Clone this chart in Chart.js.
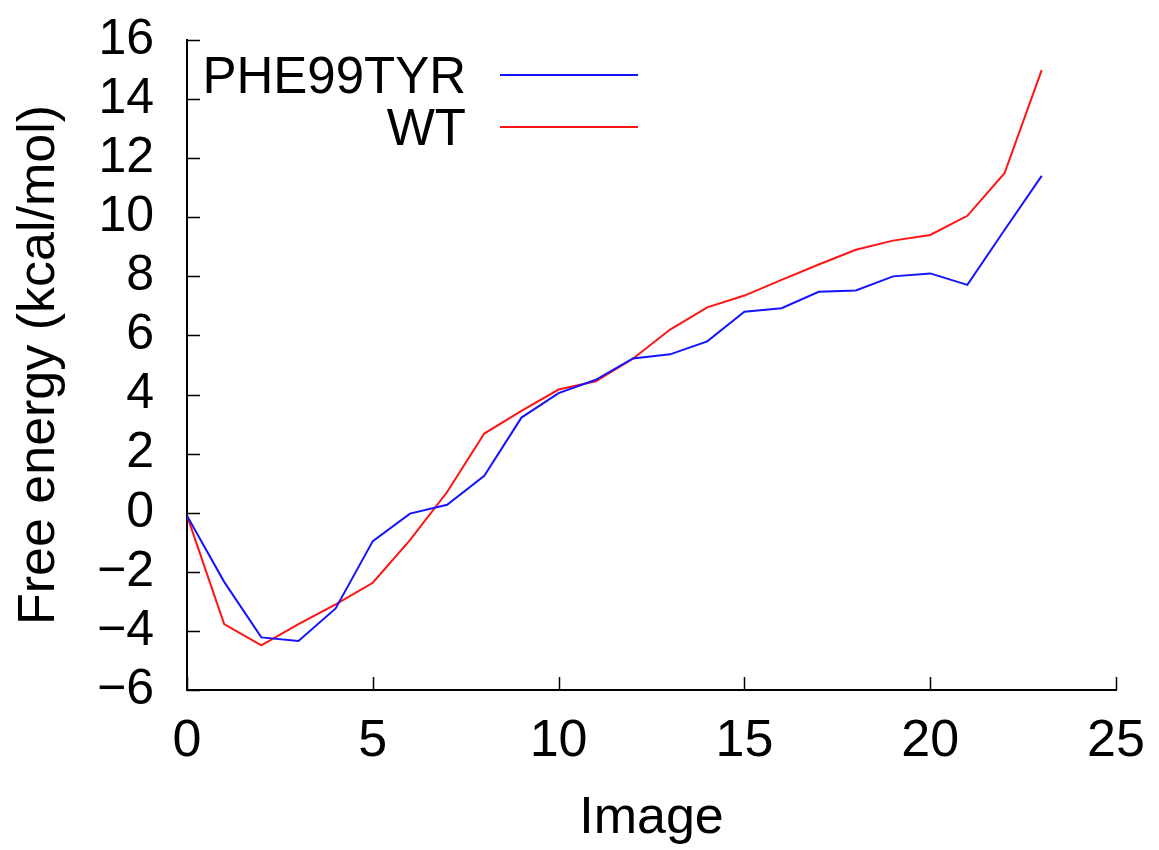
<!DOCTYPE html>
<html lang="en">
<head>
    <meta charset="UTF-8">
    <title>Free energy profile</title>
    <script src="https://cdn.jsdelivr.net/npm/chart.js"></script>
    <style>
        html, body {
            margin: 0;
            padding: 0;
            background: #fff;
        }
        #wrap {
            width: 1159px;
            height: 850px;
        }
    </style>
</head>
<body>
    <div id="wrap"><canvas id="energyChart"></canvas></div>

    <script>
        // image index along the path
        const images = [0, 1, 2, 3, 4, 5, 6, 7, 8, 9, 10, 11, 12, 13, 14, 15, 16, 17, 18, 19, 20, 21, 22, 23];
        // free energy, kcal/mol
        const phe99tyr = [-0.1, -2.34, -4.22, -4.34, -3.24, -0.96, -0.03, 0.27, 1.25, 3.22, 4.05, 4.50,
                          5.22, 5.36, 5.80, 6.80, 6.92, 7.48, 7.52, 8.00, 8.10, 7.71, 9.57, 11.40];
        const wt = [-0.1, -3.77, -4.49, -3.77, -3.10, -2.37, -0.93, 0.70, 2.68, 3.45, 4.17, 4.45,
                    5.21, 6.20, 6.95, 7.35, 7.88, 8.40, 8.90, 9.21, 9.40, 10.05, 11.49, 14.98];
        const seriesNames = ['PHE99TYR', 'WT'];
        const xTicks = [0, 5, 10, 15, 20, 25];
        const yTicks = [-6, -4, -2, 0, 2, 4, 6, 8, 10, 12, 14, 16];

        const FONT = "'Liberation Sans', Arial, sans-serif";
        Chart.defaults.font.family = FONT;
        Chart.defaults.color = '#000';

        const toPoints = ys => images.map((x, i) => ({ x: x, y: ys[i] }));
        const fmt = v => (v < 0 ? '\u2212' + Math.abs(v) : String(v));

        // gnuplot-style inward ticks
        const inwardTicks = {
            id: 'inwardTicks',
            afterDatasetsDraw(chart) {
                const { ctx, chartArea, scales } = chart;
                ctx.save();
                ctx.strokeStyle = '#000';
                ctx.lineWidth = 1.5;
                ctx.beginPath();
                yTicks.forEach(v => {
                    const y = Math.round(scales.y.getPixelForValue(v)) + 0.5;
                    ctx.moveTo(chartArea.left, y);
                    ctx.lineTo(chartArea.left + 13, y);
                });
                xTicks.forEach(v => {
                    const x = Math.round(scales.x.getPixelForValue(v)) + 0.5;
                    ctx.moveTo(x, chartArea.bottom);
                    ctx.lineTo(x, chartArea.bottom - 13);
                });
                ctx.stroke();
                ctx.restore();
            }
        };

        // key: label right-aligned, sample line to the right
        const keyBox = {
            id: 'keyBox',
            afterDatasetsDraw(chart) {
                const ctx = chart.ctx;
                ctx.save();
                ctx.font = '51px ' + FONT;
                ctx.textAlign = 'right';
                ctx.textBaseline = 'alphabetic';
                chart.data.datasets.forEach((ds, i) => {
                    const base = 93 + i * 52;
                    ctx.fillStyle = '#000';
                    ctx.fillText(ds.label, 466, base);
                    ctx.strokeStyle = ds.borderColor;
                    ctx.lineWidth = 2;
                    ctx.beginPath();
                    ctx.moveTo(500, base - 18);
                    ctx.lineTo(638, base - 18);
                    ctx.stroke();
                });
                ctx.restore();
            }
        };

        const ctx = document.getElementById('energyChart').getContext('2d');
        new Chart(ctx, {
            type: 'line',
            data: {
                datasets: [
                    {
                        label: seriesNames[0],
                        data: toPoints(phe99tyr),
                        borderColor: 'rgb(20, 20, 255)',
                        borderWidth: 2,
                        pointRadius: 0,
                        tension: 0,
                        fill: false
                    },
                    {
                        label: seriesNames[1],
                        data: toPoints(wt),
                        borderColor: 'rgb(255, 20, 20)',
                        borderWidth: 2,
                        pointRadius: 0,
                        tension: 0,
                        fill: false
                    }
                ]
            },
            options: {
                responsive: true,
                maintainAspectRatio: false,
                animation: false,
                layout: { padding: { top: 40, right: 43, left: 0, bottom: 0 } },
                plugins: {
                    legend: { display: false },
                    tooltip: { enabled: false }
                },
                scales: {
                    x: {
                        type: 'linear',
                        min: 0,
                        max: 25,
                        afterFit: s => {
                            s.height = 160;
                            s.paddingLeft = 0;
                            s.paddingRight = 0;
                        },
                        afterBuildTicks: s => { s.ticks = xTicks.map(v => ({ value: v })); },
                        ticks: {
                            font: { size: 52 },
                            padding: 20,
                            maxRotation: 0,
                            autoSkip: false,
                            callback: fmt
                        },
                        grid: { drawOnChartArea: false, drawTicks: false },
                        border: { color: '#000', width: 2 },
                        title: {
                            display: true,
                            text: 'Image',
                            font: { size: 52 },
                            padding: { top: 0, bottom: 0 }
                        }
                    },
                    y: {
                        min: -6,
                        max: 16,
                        afterFit: s => {
                            s.width = 187;
                            s.paddingTop = 0;
                            s.paddingBottom = 0;
                        },
                        afterBuildTicks: s => { s.ticks = yTicks.map(v => ({ value: v })); },
                        ticks: {
                            font: { size: 50 },
                            padding: 33,
                            autoSkip: false,
                            callback: fmt
                        },
                        grid: { drawOnChartArea: false, drawTicks: false },
                        border: { color: '#000', width: 2 },
                        title: {
                            display: true,
                            text: 'Free energy (kcal/mol)',
                            font: { size: 52 },
                            padding: { top: 8, bottom: 0 }
                        }
                    }
                }
            },
            plugins: [inwardTicks, keyBox]
        });
    </script>
</body>
</html>
